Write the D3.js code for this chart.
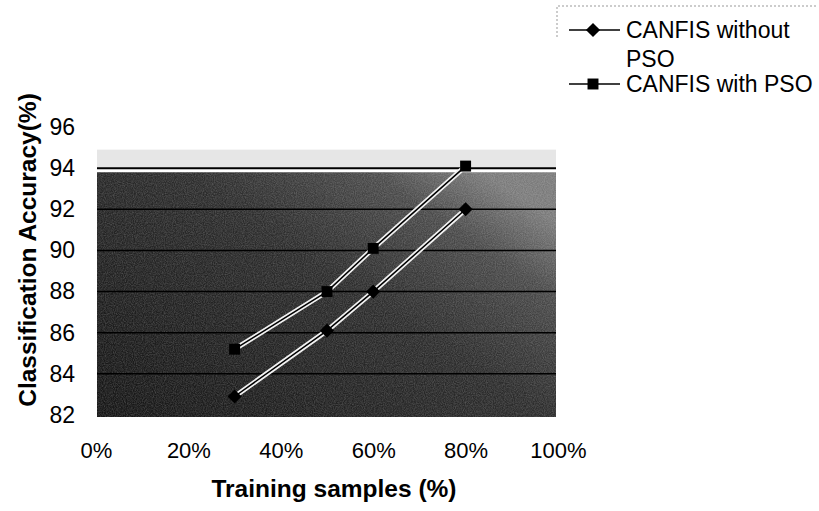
<!DOCTYPE html>
<html>
<head>
<meta charset="utf-8">
<script src="https://cdn.jsdelivr.net/npm/d3@7"></script>
<style>
  body { margin: 0; background: #fff; }
  text { font-family: "Liberation Sans", Arial, sans-serif; }
</style>
</head>
<body>
<svg id="chart" width="819" height="511"></svg>
<script>
// training share (x) and accuracy per series
const trainingShare = [0.3, 0.5, 0.6, 0.8];
const withoutPSO = [82.9, 86.1, 88.0, 92.0];
const withPSO = [85.2, 88.0, 90.1, 94.1];
const seriesNames = ["CANFIS without PSO", "CANFIS with PSO"];
const xTicks = [0, 0.2, 0.4, 0.6, 0.8, 1];
const yTicks = [82, 84, 86, 88, 90, 92, 94, 96];
const gridValues = [84, 86, 88, 90, 92, 94];

const svg = d3.select("#chart");

const x = d3.scaleLinear().domain([0, 1]).range([96, 558]);
const y = d3.scaleLinear().domain([82, 96]).range([415, 127]);

const plotLeft = 97, plotRight = 556;

// scanned grey plot background
const defs = svg.append("defs");
const grad = defs.append("linearGradient")
    .attr("id", "plotFill")
    .attr("x1", "0").attr("y1", "1").attr("x2", "1").attr("y2", "0.2");
grad.append("stop").attr("offset", "0").attr("stop-color", "#141414");
grad.append("stop").attr("offset", "0.6").attr("stop-color", "#2c2c2c");
grad.append("stop").attr("offset", "0.85").attr("stop-color", "#4a4a4a");
grad.append("stop").attr("offset", "1").attr("stop-color", "#7a7a7a");

const noise = defs.append("filter").attr("id", "grain")
    .attr("x", 0).attr("y", 0).attr("width", 1).attr("height", 1);
noise.append("feTurbulence")
    .attr("type", "fractalNoise").attr("baseFrequency", 0.9)
    .attr("numOctaves", 2).attr("seed", 3).attr("result", "t");
noise.append("feColorMatrix")
    .attr("in", "t").attr("type", "matrix")
    .attr("values", "0 0 0 0 1  0 0 0 0 1  0 0 0 0 1  0.9 0 0 0 -0.25")
    .attr("result", "n");
noise.append("feComposite").attr("in", "n").attr("in2", "SourceGraphic").attr("operator", "in");

// light band above the 94 line
svg.append("rect")
    .attr("x", plotLeft).attr("y", y(94.9))
    .attr("width", plotRight - plotLeft).attr("height", y(94) - y(94.9))
    .attr("fill", "#e6e6e6");

svg.append("rect")
    .attr("x", plotLeft).attr("y", y(93.8))
    .attr("width", plotRight - plotLeft).attr("height", y(82) - y(93.8) + 2)
    .attr("fill", "url(#plotFill)");

svg.append("rect")
    .attr("x", plotLeft).attr("y", y(93.8))
    .attr("width", plotRight - plotLeft).attr("height", y(82) - y(93.8) + 2)
    .attr("fill", "#000")
    .attr("filter", "url(#grain)")
    .attr("opacity", 0.35);

// gridlines
svg.append("g")
    .selectAll("line")
    .data(gridValues)
    .join("line")
    .attr("x1", plotLeft).attr("x2", plotRight)
    .attr("y1", d => y(d)).attr("y2", d => y(d))
    .attr("stroke", "#000")
    .attr("stroke-width", d => d === 94 ? 2 : 1.5);

// axes (labels only)
const yAxis = svg.append("g")
    .attr("transform", `translate(${plotLeft},0)`)
    .call(d3.axisLeft(y).tickValues(yTicks).tickSize(0).tickPadding(22));
yAxis.select(".domain").remove();
yAxis.selectAll("text")
    .attr("font-size", 23).attr("fill", "#000")
    .style("font-family", '"Liberation Sans", Arial, sans-serif');

const xAxis = svg.append("g")
    .attr("transform", `translate(0,${y(82)})`)
    .call(d3.axisBottom(x).tickValues(xTicks).tickFormat(d3.format(".0%")).tickSize(0).tickPadding(27));
xAxis.select(".domain").remove();
xAxis.selectAll("text")
    .attr("font-size", 22).attr("fill", "#000")
    .style("font-family", '"Liberation Sans", Arial, sans-serif');

// axis titles
svg.append("text")
    .attr("x", 334).attr("y", 497)
    .attr("text-anchor", "middle")
    .attr("font-size", 24.5).attr("font-weight", "bold")
    .text("Training samples (%)");

svg.append("text")
    .attr("transform", "translate(36,250) rotate(-90)")
    .attr("text-anchor", "middle")
    .attr("font-size", 24.5).attr("font-weight", "bold")
    .text("Classification Accuracy(%)");

// series
const diamond = d3.symbol().type(d3.symbolSquare).size(100)();
const square = d3.symbol().type(d3.symbolSquare).size(120)();
const series = [
    { name: seriesNames[0], values: withoutPSO, marker: diamond, rot: 45 },
    { name: seriesNames[1], values: withPSO, marker: square, rot: 0 }
];

const line = d3.line()
    .x((d, i) => x(trainingShare[i]))
    .y(d => y(d));

series.forEach(s => {
    svg.append("path")
        .attr("d", line(s.values))
        .attr("fill", "none")
        .attr("stroke", "#f2f2f2")
        .attr("stroke-width", 5);
    svg.append("path")
        .attr("d", line(s.values))
        .attr("fill", "none")
        .attr("stroke", "#000")
        .attr("stroke-width", 1.5);
    svg.append("g")
        .selectAll("path")
        .data(s.values)
        .join("path")
        .attr("transform", (d, i) => `translate(${x(trainingShare[i])},${y(d)}) rotate(${s.rot})`)
        .attr("d", s.marker)
        .attr("fill", "#000");
});

// legend
const legend = svg.append("g");
legend.append("path")
    .attr("d", "M557,37 V6 H817")
    .attr("fill", "none")
    .attr("stroke", "#999")
    .attr("stroke-dasharray", "2,2");

const legendRows = [
    { s: series[0], y: 30, lines: ["CANFIS without", "PSO"] },
    { s: series[1], y: 84, lines: ["CANFIS with PSO"] }
];
legendRows.forEach(r => {
    legend.append("line")
        .attr("x1", 569).attr("x2", 620)
        .attr("y1", r.y).attr("y2", r.y)
        .attr("stroke", "#000").attr("stroke-width", 1.5);
    legend.append("path")
        .attr("transform", `translate(593,${r.y}) rotate(${r.s.rot})`)
        .attr("d", r.s.marker)
        .attr("fill", "#000");
    r.lines.forEach((t, k) => {
        legend.append("text")
            .attr("x", 626).attr("y", r.y + 8 + k * 29)
            .attr("font-size", 23)
            .text(t);
    });
});
</script>
</body>
</html>
